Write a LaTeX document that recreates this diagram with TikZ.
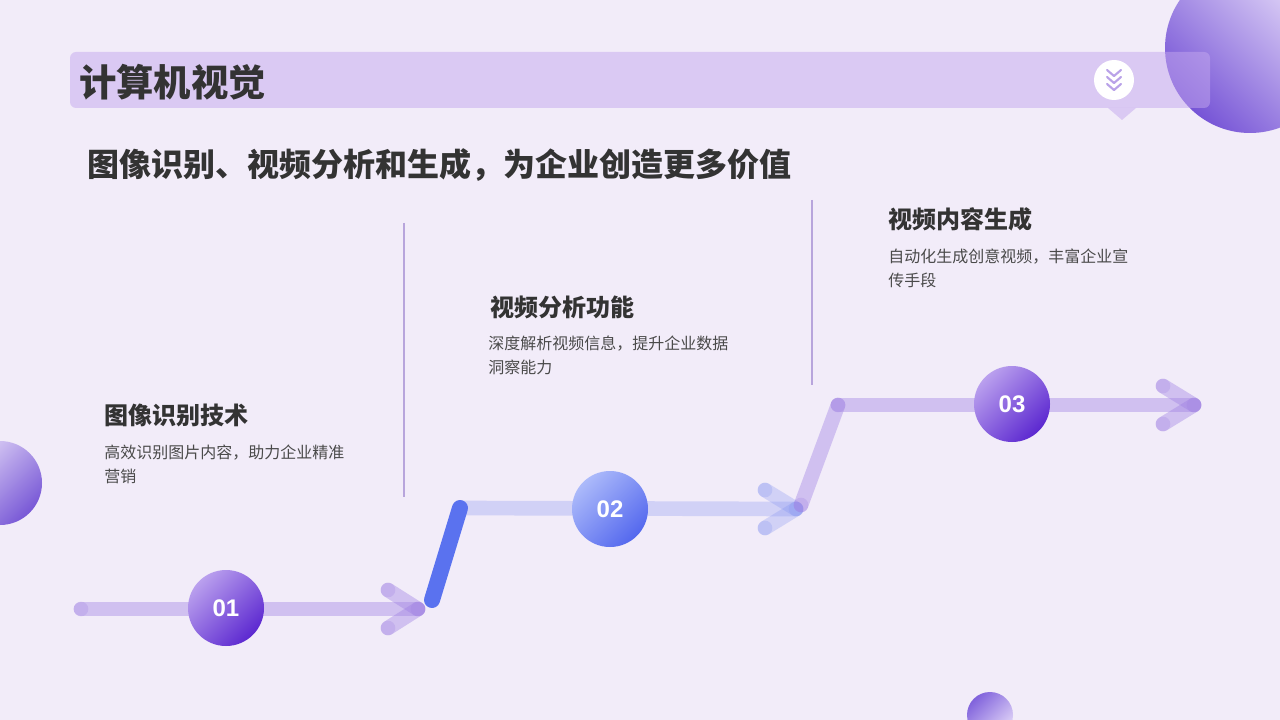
\documentclass[tikz,border=0pt]{standalone}
\usepackage{fontspec}
\setmainfont{Noto Sans CJK SC}
\newfontfamily\numfont{Liberation Sans}
\definecolor{bg}{HTML}{F2ECF9}
\definecolor{barc}{HTML}{C4A8EE}
\definecolor{lav}{HTML}{9E7FE3}
\definecolor{bluel}{HTML}{8595F2}
\definecolor{blued}{HTML}{5A72EF}
\definecolor{txt}{HTML}{333333}
\definecolor{desct}{HTML}{4A4A4A}
\definecolor{vline}{HTML}{B8A5DC}
\definecolor{chev}{HTML}{B9A2E8}
\tikzset{
  trackl/.style={draw=lav, draw opacity=0.4, line width=11pt, line cap=round},
  trackb/.style={draw=bluel, draw opacity=0.3, line width=11pt, line cap=round},
  dotl/.style={fill=lav, fill opacity=0.25},
  dotb/.style={fill=bluel, fill opacity=0.25},
  numc/.style={circle, minimum size=57pt, inner sep=0pt, text=white,
    font=\numfont\bfseries\fontsize{18}{18}\selectfont},
  headt/.style={anchor=west, inner sep=0pt, text=txt, font=\bfseries\fontsize{18}{21}\selectfont},
  desctext/.style={anchor=north west, inner sep=0pt, align=left, text=desct,
    font=\fontsize{12}{18}\selectfont},
  vl/.style={draw=vline, line width=1.1pt},
}
\begin{document}
\begin{tikzpicture}[x=0.75pt,y=-0.75pt]
\useasboundingbox (0,0) rectangle (1280,720);
\begin{scope}
\clip (0,0) rectangle (1280,720);
\fill[bg] (0,0) rectangle (1280,720);
% decorative circles
\shade[top color={rgb,255:red,232;green,222;blue,250}, bottom color={rgb,255:red,118;green,84;blue,214}, shading angle=-45]
  (1250,48) circle[radius=63.75pt];
\shade[top color={rgb,255:red,222;green,210;blue,246}, bottom color={rgb,255:red,120;green,88;blue,214}, shading angle=45]
  (0,483) circle[radius=31.5pt];
\shade[top color={rgb,255:red,128;green,98;blue,220}, bottom color={rgb,255:red,226;green,214;blue,248}, shading angle=45]
  (990,715) circle[radius=17.25pt];
% header bar
\fill[barc, fill opacity=0.5, rounded corners=4.5pt] (70,52) rectangle (1210,108);
\fill[barc, fill opacity=0.5] (1108,108) -- (1136,108) -- (1122,120) -- cycle;
\node[circle, fill=white, minimum size=30pt, inner sep=0pt] (icon) at (1114,80) {};
\foreach \yy in {70,77,84}{
  \draw[chev, line width=1.6pt, line cap=round, line join=round] (1107,\yy) -- (1114,\yy+6) -- (1121,\yy);
}
\end{scope}
% titles
\node[anchor=west, inner sep=0pt, text=txt, font=\bfseries\fontsize{28}{30}\selectfont] (title) at (79,82) {计算机视觉};
\node[anchor=west, inner sep=0pt, text=txt, font=\bfseries\fontsize{24}{28}\selectfont] (sub) at (87,165) {图像识别、视频分析和生成，为企业创造更多价值};
% vertical separators
\coordinate (v1a) at (404,223); \coordinate (v1b) at (404,497);
\coordinate (v2a) at (812,200); \coordinate (v2b) at (812,385);
\draw[vl] (v1a) -- (v1b);
\draw[vl] (v2a) -- (v2b);
% track coordinates
\coordinate (s1) at (81,609);
\coordinate (e1) at (418,609);
\coordinate (a1u) at (388,590); \coordinate (a1d) at (388,628);
\coordinate (b1) at (432,600);
\coordinate (b2) at (460,508);
\coordinate (e2) at (796,509);
\coordinate (a2u) at (765,490); \coordinate (a2d) at (765,528);
\coordinate (c1) at (801,505);
\coordinate (c2) at (838,405);
\coordinate (e3) at (1194,405);
\coordinate (a3u) at (1163,386); \coordinate (a3d) at (1163,424);
% tracks
\draw[trackl] (s1) -- (e1);
\draw[trackl] (a1u) -- (e1);
\draw[trackl] (a1d) -- (e1);
\foreach \p in {s1,e1,a1u,a1d}{\fill[dotl] (\p) circle[radius=5.5pt];}
\draw[trackb] (b2) -- (e2);
\draw[trackb] (a2u) -- (e2);
\draw[trackb] (a2d) -- (e2);
\foreach \p in {e2,a2u,a2d}{\fill[dotb] (\p) circle[radius=5.5pt];}
\draw[trackl] (c1) -- (c2);
\draw[trackl] (c2) -- (e3);
\draw[trackl] (a3u) -- (e3);
\draw[trackl] (a3d) -- (e3);
\foreach \p in {c1,c2,e3,a3u,a3d}{\fill[dotl] (\p) circle[radius=5.5pt];}
\draw[draw=blued, line width=12pt, line cap=round] (b1) -- (b2);
% number circles
\node[numc, top color={rgb,255:red,186;green,160;blue,238}, bottom color={rgb,255:red,92;green,40;blue,208}, shading angle=45] (n1) at (226,608) {01};
\node[numc, top color={rgb,255:red,172;green,186;blue,250}, bottom color={rgb,255:red,84;green,104;blue,238}, shading angle=45] (n2) at (610,509) {02};
\node[numc, top color={rgb,255:red,186;green,160;blue,238}, bottom color={rgb,255:red,92;green,40;blue,208}, shading angle=45] (n3) at (1012,404) {03};
% section texts
\node[headt] (h1) at (104,415) {图像识别技术};
\node[desctext] (d1) at (104,445) {高效识别图片内容，助力企业精准\\营销};
\node[headt] (h2) at (490,307) {视频分析功能};
\node[desctext] (d2) at (488,336) {深度解析视频信息，提升企业数据\\洞察能力};
\node[headt] (h3) at (888,219) {视频内容生成};
\node[desctext] (d3) at (888,249) {自动化生成创意视频，丰富企业宣\\传手段};
\end{tikzpicture}
\end{document}
